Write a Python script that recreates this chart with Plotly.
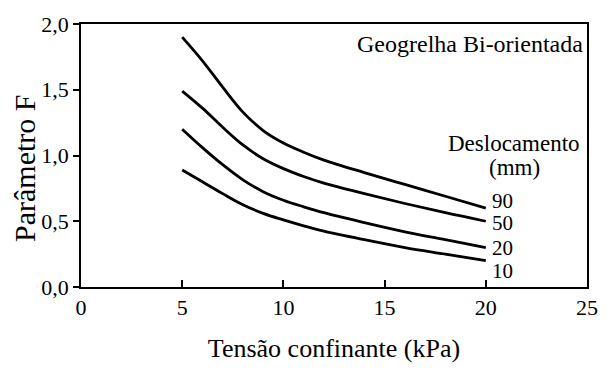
import plotly.graph_objects as go

# Confining stress (kPa) where each curve is sampled
tensao = [5, 6, 7, 8, 9, 10, 11, 12, 14, 16, 18, 20]

# Parameter F for each displacement (mm)
f_90 = [1.90, 1.72, 1.52, 1.33, 1.19, 1.095, 1.025, 0.965, 0.87, 0.78, 0.69, 0.60]
f_50 = [1.49, 1.36, 1.215, 1.08, 0.975, 0.90, 0.84, 0.79, 0.71, 0.635, 0.565, 0.50]
f_20 = [1.20, 1.06, 0.93, 0.815, 0.725, 0.66, 0.61, 0.565, 0.49, 0.42, 0.36, 0.30]
f_10 = [0.89, 0.80, 0.71, 0.625, 0.56, 0.51, 0.465, 0.425, 0.36, 0.30, 0.25, 0.20]

deslocamentos = ["90", "50", "20", "10"]
series = [f_90, f_50, f_20, f_10]
label_y = [0.655, 0.485, 0.30, 0.12]

x_ticks = [0, 5, 10, 15, 20, 25]
x_ticktext = ["0", "5", "10", "15", "20", "25"]
y_ticks = [0.0, 0.5, 1.0, 1.5, 2.0]
y_ticktext = ["0,0", "0,5", "1,0", "1,5", "2,0"]

FONT = "Liberation Serif"

fig = go.Figure()
for name, ys in zip(deslocamentos, series):
    fig.add_trace(go.Scatter(
        x=tensao, y=ys, mode="lines", name=name,
        line=dict(color="black", width=2.8, shape="spline", smoothing=1.0),
        showlegend=False,
    ))

# Displacement labels at the right end of each curve
for name, ly in zip(deslocamentos, label_y):
    fig.add_annotation(x=20.2, y=ly, text=name, showarrow=False,
                       xanchor="left", yanchor="middle",
                       font=dict(family=FONT, size=21, color="black"))

fig.add_annotation(x=24.9, y=1.85, text="Geogrelha Bi-orientada", showarrow=False,
                   xanchor="right", yanchor="middle",
                   font=dict(family=FONT, size=24, color="black"))
fig.add_annotation(x=21.4, y=1.095, text="Deslocamento", showarrow=False,
                   xanchor="center", yanchor="middle",
                   font=dict(family=FONT, size=23, color="black"))
fig.add_annotation(x=21.4, y=0.905, text="(mm)", showarrow=False,
                   xanchor="center", yanchor="middle",
                   font=dict(family=FONT, size=23, color="black"))

# Vertical axis title
fig.add_annotation(xref="paper", yref="paper", x=-0.112, y=0.45,
                   text="Parâmetro F", showarrow=False, textangle=-90,
                   xanchor="center", yanchor="middle",
                   font=dict(family=FONT, size=30, color="black"))

fig.update_layout(
    width=610, height=370,
    margin=dict(l=80.5, r=14.5, t=21, b=77),
    paper_bgcolor="white", plot_bgcolor="white",
    font=dict(family=FONT, color="black"),
)
fig.update_xaxes(
    range=[0, 25], tickvals=x_ticks, ticktext=x_ticktext,
    ticks="inside", ticklen=7, tickwidth=1.5, tickcolor="black",
    showline=True, linecolor="black", linewidth=1.5, mirror=True,
    showgrid=False, zeroline=False,
    tickfont=dict(family=FONT, size=22),
    title=dict(text="Tensão confinante (kPa)", font=dict(family=FONT, size=26), standoff=20),
)
fig.update_yaxes(
    range=[0, 2], tickvals=y_ticks, ticktext=y_ticktext,
    ticks="outside", ticklen=6, tickwidth=1.5, tickcolor="black",
    showline=True, linecolor="black", linewidth=1.5, mirror=True,
    showgrid=False, zeroline=False,
    tickfont=dict(family=FONT, size=22),
)

fig.write_html("out.html")
